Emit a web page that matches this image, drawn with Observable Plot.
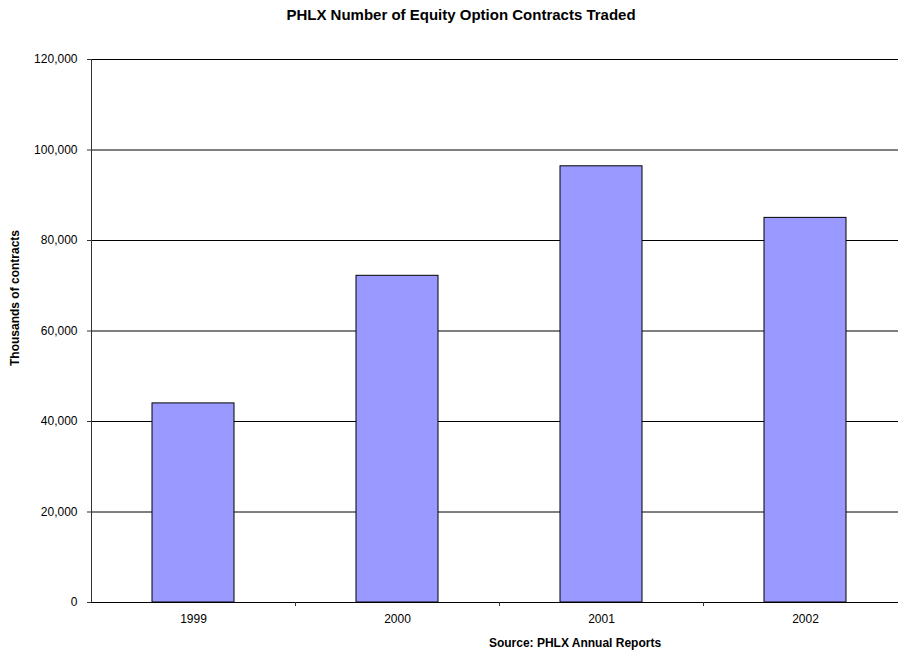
<!DOCTYPE html>
<html>
<head>
<meta charset="utf-8">
<script src="https://cdn.jsdelivr.net/npm/d3@7"></script>
<script src="https://cdn.jsdelivr.net/npm/@observablehq/plot@0.6"></script>
<style>
  html, body { margin: 0; padding: 0; background: #fff; }
  #wrap { position: relative; width: 898px; height: 654px; overflow: hidden; font-family: "Liberation Sans", Arial, sans-serif; }
  .lbl { position: absolute; font-weight: bold; font-size: 12px; color: #000; white-space: nowrap; }
  #title { left: 461px; top: 14px; font-size: 15px; transform: translate(-50%, -50%); }
  #caption { left: 575px; top: 643px; transform: translate(-50%, -50%); }
  #ylabel { left: 15px; top: 298px; transform: translate(-50%, -50%) rotate(-90deg); }
  #chart { position: absolute; left: 0; top: 0; }
</style>
</head>
<body>
<div id="wrap">
  <div id="chart"></div>
  <div class="lbl" id="title">PHLX Number of Equity Option Contracts Traded</div>
  <div class="lbl" id="ylabel">Thousands of contracts</div>
  <div class="lbl" id="caption">Source: PHLX Annual Reports</div>
</div>
<script>
const years = ["1999", "2000", "2001", "2002"];
const contracts = [44000, 72200, 96400, 85000];
const yTicks = [0, 20000, 40000, 60000, 80000, 100000, 120000];

const data = years.map((y, i) => ({year: y, value: contracts[i]}));
const halfStep = 102;

const chart = Plot.plot({
  width: 907,
  height: 654,
  marginLeft: 91,
  marginRight: 0,
  marginTop: 59,
  marginBottom: 52,
  style: {fontFamily: "'Liberation Sans', Arial, sans-serif", fontSize: "12px", maxWidth: "none", background: "#fff"},
  x: {domain: years, paddingInner: 0.6, paddingOuter: 0.3, label: null},
  y: {domain: [0, 120000], label: null},
  marks: [
    Plot.gridY(yTicks, {stroke: "#000", strokeOpacity: 1, strokeWidth: 1}),
    Plot.barY(data, {x: "year", y: "value", fill: "#9999FF", stroke: "#000", strokeWidth: 1}),
    Plot.ruleY([0], {stroke: "#000"}),
    Plot.ruleX([years[0]], {dx: -halfStep, stroke: "#333"}),
    Plot.axisY({ticks: yTicks, tickFormat: d3.format(","), tickSize: 4, tickPadding: 10, fontSize: 12, label: null, stroke: "#333", fill: "#000"}),
    Plot.axisX({tickSize: 0, tickPadding: 12, fontSize: 12, label: null, fill: "#000"}),
    Plot.axisX({tickSize: 4, dx: halfStep, tickFormat: () => "", label: null, stroke: "#333"})
  ]
});
document.getElementById("chart").appendChild(chart);
</script>
</body>
</html>
